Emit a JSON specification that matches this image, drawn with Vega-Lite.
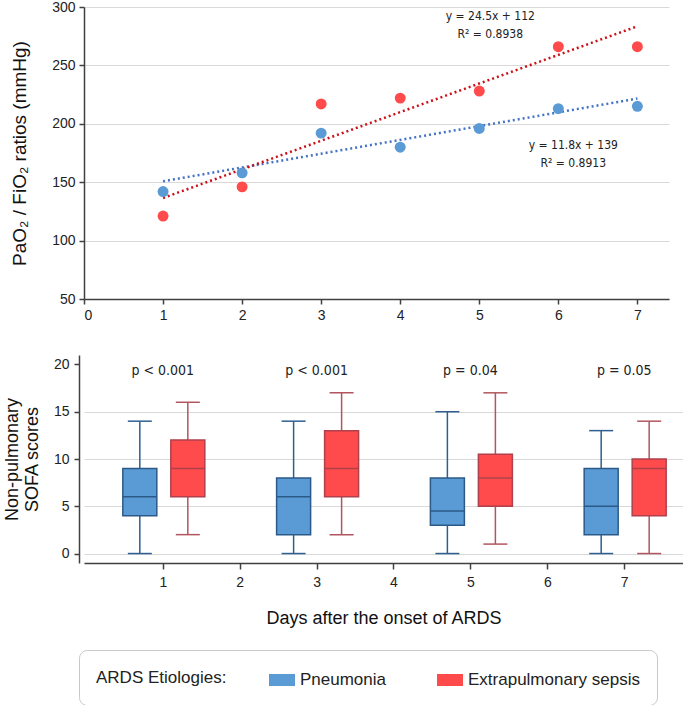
{
  "$schema": "https://vega.github.io/schema/vega-lite/v6.json",
  "padding": {"left": 3, "top": 0, "right": 0, "bottom": 0},
  "spacing": 33,
  "resolve": {"legend": {"color": "independent"}},
  "config": {
    "font": "Liberation Sans",
    "view": {"stroke": null},
    "axis": {
      "domainColor": "#404040", "domainWidth": 1.5, "tickColor": "#404040", "tickWidth": 1.5, "tickSize": 5,
      "labelColor": "#222222", "labelFontSize": 14, "titleColor": "#111111", "titleFontWeight": "normal",
      "gridColor": "#d9d9d9", "gridWidth": 1.2
    }
  },
  "datasets": {
    "pf": [
      {"day": 1, "group": "Pneumonia", "value": 142},
      {"day": 2, "group": "Pneumonia", "value": 158},
      {"day": 3, "group": "Pneumonia", "value": 192},
      {"day": 4, "group": "Pneumonia", "value": 180},
      {"day": 5, "group": "Pneumonia", "value": 196},
      {"day": 6, "group": "Pneumonia", "value": 213},
      {"day": 7, "group": "Pneumonia", "value": 215},
      {"day": 1, "group": "Extrapulmonary sepsis", "value": 121},
      {"day": 2, "group": "Extrapulmonary sepsis", "value": 146},
      {"day": 3, "group": "Extrapulmonary sepsis", "value": 217},
      {"day": 4, "group": "Extrapulmonary sepsis", "value": 222},
      {"day": 5, "group": "Extrapulmonary sepsis", "value": 228},
      {"day": 6, "group": "Extrapulmonary sepsis", "value": 266},
      {"day": 7, "group": "Extrapulmonary sepsis", "value": 266}
    ],
    "trend": [
      {"day": 1, "group": "Pneumonia", "value": 150.8},
      {"day": 7, "group": "Pneumonia", "value": 221.6},
      {"day": 1, "group": "Extrapulmonary sepsis", "value": 136.5},
      {"day": 7, "group": "Extrapulmonary sepsis", "value": 283.5}
    ],
    "eq": [
      {"x": 5.14, "y": 292, "label": "y = 24.5x + 112"},
      {"x": 5.14, "y": 277, "label": "R² = 0.8938"},
      {"x": 6.19, "y": 182, "label": "y = 11.8x + 139"},
      {"x": 6.19, "y": 166.5, "label": "R² = 0.8913"}
    ],
    "sofa": [
      {"day": 1, "group": "Pneumonia", "min": 0, "q1": 4, "median": 6, "q3": 9, "max": 14},
      {"day": 3, "group": "Pneumonia", "min": 0, "q1": 2, "median": 6, "q3": 8, "max": 14},
      {"day": 5, "group": "Pneumonia", "min": 0, "q1": 3, "median": 4.5, "q3": 8, "max": 15},
      {"day": 7, "group": "Pneumonia", "min": 0, "q1": 2, "median": 5, "q3": 9, "max": 13},
      {"day": 1, "group": "Extrapulmonary sepsis", "min": 2, "q1": 6, "median": 9, "q3": 12, "max": 16},
      {"day": 3, "group": "Extrapulmonary sepsis", "min": 2, "q1": 6, "median": 9, "q3": 13, "max": 17},
      {"day": 5, "group": "Extrapulmonary sepsis", "min": 1, "q1": 5, "median": 8, "q3": 10.5, "max": 17},
      {"day": 7, "group": "Extrapulmonary sepsis", "min": 0, "q1": 4, "median": 9, "q3": 10, "max": 14}
    ],
    "pvals": [
      {"day": 1, "label": "p < 0.001"},
      {"day": 3, "label": "p < 0.001"},
      {"day": 5, "label": "p = 0.04"},
      {"day": 7, "label": "p = 0.05"}
    ]
  },
  "vconcat": [
    {
      "width": 585,
      "height": 292,
      "encoding": {
        "x": {"field": "day", "type": "quantitative", "scale": {"domain": [0, 7.4], "nice": false, "zero": false},
              "axis": {"values": [0, 1, 2, 3, 4, 5, 6, 7], "title": null, "grid": false, "labelPadding": 4}},
        "y": {"field": "value", "type": "quantitative", "scale": {"domain": [50, 300], "nice": false, "zero": false},
              "axis": {"values": [50, 100, 150, 200, 250, 300], "title": "PaO₂ / FiO₂ ratios (mmHg)", "titleFontSize": 19, "titlePadding": 22, "grid": true, "labelPadding": 4}}
      },
      "layer": [
        {
          "data": {"name": "trend"},
          "mark": {"type": "line", "strokeDash": [2, 3], "strokeWidth": 2.5},
          "encoding": {
            "stroke": {"field": "group", "type": "nominal", "scale": {"domain": ["Pneumonia", "Extrapulmonary sepsis"], "range": ["#4472C4", "#CC1018"]}, "legend": null},
            "detail": {"field": "group"}
          }
        },
        {
          "data": {"name": "pf"},
          "mark": {"type": "circle", "size": 120, "opacity": 1},
          "encoding": {
            "color": {"field": "group", "type": "nominal",
              "scale": {"domain": ["Pneumonia", "Extrapulmonary sepsis"], "range": ["#5B9BD5", "#FF4B4B"]},
              "legend": null
            }
          }
        },
        {
          "data": {"name": "eq"},
          "mark": {"type": "text", "font": "DejaVu Sans Condensed, Roboto, sans-serif", "fontSize": 12, "color": "#222222", "align": "center", "baseline": "middle"},
          "encoding": {
            "x": {"field": "x", "type": "quantitative"},
            "y": {"field": "y", "type": "quantitative"},
            "text": {"field": "label"}
          }
        }
      ]
    },
    {
      "width": 599,
      "height": 208,
      "data": {"name": "sofa"},
      "encoding": {
        "x": {"field": "day", "type": "quantitative", "scale": {"domain": [0.04, 7.7], "nice": false, "zero": false},
              "axis": {"values": [1, 2, 3, 4, 5, 6, 7], "title": "Days after the onset of ARDS", "titleFontSize": 18, "titlePadding": 20, "grid": false, "labelPadding": 6, "tickSize": 6}},
        "y": {"type": "quantitative", "scale": {"domain": [-1, 21], "nice": false, "zero": false},
              "axis": {"values": [0, 5, 10, 15, 20], "title": ["Non-pulmonary", "SOFA scores"], "titleFontSize": 18, "titlePadding": 12, "offset": 5, "grid": true,
                       "gridOpacity": {"condition": {"test": "datum.value == 20", "value": 0}, "value": 1}, "labelPadding": 5}}
      },
      "layer": [
        {
          "transform": [{"filter": "datum.group == 'Pneumonia'"}],
          "mark": {"type": "rule", "xOffset": -23, "color": "#2F5F91", "strokeWidth": 1.5},
          "encoding": {"y": {"field": "min"}, "y2": {"field": "max"}}
        },
        {
          "transform": [{"filter": "datum.group == 'Pneumonia'"}],
          "mark": {"type": "tick", "orient": "horizontal", "size": 24, "thickness": 1.5, "xOffset": -23, "color": "#2F5F91", "opacity": 1},
          "encoding": {"y": {"field": "min"}}
        },
        {
          "transform": [{"filter": "datum.group == 'Pneumonia'"}],
          "mark": {"type": "tick", "orient": "horizontal", "size": 24, "thickness": 1.5, "xOffset": -23, "color": "#2F5F91", "opacity": 1},
          "encoding": {"y": {"field": "max"}}
        },
        {
          "transform": [{"filter": "datum.group == 'Pneumonia'"}],
          "mark": {"type": "bar", "size": 34, "xOffset": -23, "stroke": "#2C5A88", "strokeWidth": 1.5, "opacity": 1},
          "encoding": {"y": {"field": "q1"}, "y2": {"field": "q3"},
                       "color": {"field": "group", "type": "nominal",
                         "legend": {
                           "title": "ARDS Etiologies:", "orient": "none", "direction": "horizontal", "titleOrient": "left",
                           "legendX": -5, "legendY": 295,
                           "strokeColor": "#c8c8c8", "cornerRadius": 8, "padding": 17, "fillColor": "white",
                           "titleFontSize": 17, "titleFontWeight": "normal", "titleColor": "#222222", "titlePadding": 42,
                           "labelFontSize": 17, "labelColor": "#222222", "labelOffset": 5, "columnPadding": 50, "labelLimit": 300,
                           "symbolType": "M-1,-0.46H1V0.46H-1Z", "symbolSize": 676, "symbolStrokeWidth": 0, "symbolOpacity": 1
                         }}}
        },
        {
          "transform": [{"filter": "datum.group == 'Pneumonia'"}],
          "mark": {"type": "tick", "orient": "horizontal", "size": 34, "thickness": 1.5, "xOffset": -23, "color": "#2C5A88", "opacity": 1},
          "encoding": {"y": {"field": "median"}}
        },
        {
          "transform": [{"filter": "datum.group == 'Extrapulmonary sepsis'"}],
          "mark": {"type": "rule", "xOffset": 25, "color": "#B2555E", "strokeWidth": 1.5},
          "encoding": {"y": {"field": "min"}, "y2": {"field": "max"}}
        },
        {
          "transform": [{"filter": "datum.group == 'Extrapulmonary sepsis'"}],
          "mark": {"type": "tick", "orient": "horizontal", "size": 24, "thickness": 1.5, "xOffset": 25, "color": "#B2555E", "opacity": 1},
          "encoding": {"y": {"field": "min"}}
        },
        {
          "transform": [{"filter": "datum.group == 'Extrapulmonary sepsis'"}],
          "mark": {"type": "tick", "orient": "horizontal", "size": 24, "thickness": 1.5, "xOffset": 25, "color": "#B2555E", "opacity": 1},
          "encoding": {"y": {"field": "max"}}
        },
        {
          "transform": [{"filter": "datum.group == 'Extrapulmonary sepsis'"}],
          "mark": {"type": "bar", "size": 34, "xOffset": 25, "stroke": "#B0404C", "strokeWidth": 1.5, "opacity": 1},
          "encoding": {"y": {"field": "q1"}, "y2": {"field": "q3"},
                       "color": {"field": "group", "type": "nominal"}}
        },
        {
          "transform": [{"filter": "datum.group == 'Extrapulmonary sepsis'"}],
          "mark": {"type": "tick", "orient": "horizontal", "size": 34, "thickness": 1.5, "xOffset": 25, "color": "#B0404C", "opacity": 1},
          "encoding": {"y": {"field": "median"}}
        },
        {
          "data": {"name": "pvals"},
          "mark": {"type": "text", "font": "DejaVu Sans Condensed, Roboto, sans-serif", "fontSize": 14, "color": "#222222", "align": "center", "baseline": "middle"},
          "encoding": {"y": {"datum": 19.3}, "text": {"field": "label"}}
        }
      ]
    }
  ]
}
